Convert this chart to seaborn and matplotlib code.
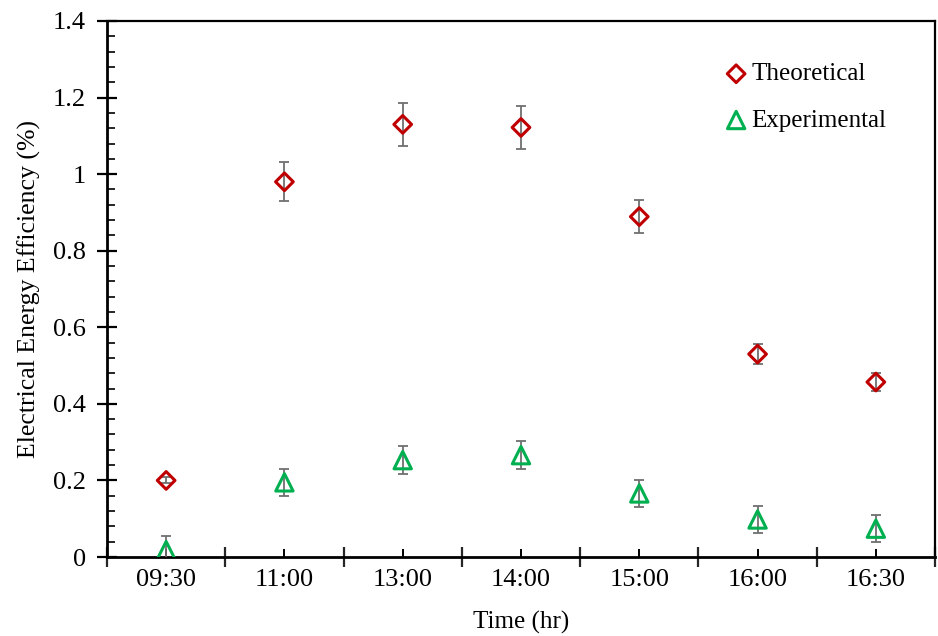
import numpy as np
import pandas as pd
import matplotlib
matplotlib.use("Agg")
import matplotlib.pyplot as plt
from matplotlib.ticker import FixedLocator, MultipleLocator, FuncFormatter
import seaborn as sns

times = ["09:30", "11:00", "13:00", "14:00", "15:00", "16:00", "16:30"]
theoretical = [0.200, 0.980, 1.130, 1.122, 0.889, 0.530, 0.457]
theoretical_err = [0.008, 0.051, 0.057, 0.057, 0.044, 0.026, 0.023]
experimental = [0.018, 0.195, 0.253, 0.266, 0.166, 0.098, 0.074]
experimental_err = [0.036, 0.036, 0.036, 0.036, 0.036, 0.036, 0.036]

sns.set_theme(style="white")
plt.rcParams["font.family"] = ["Liberation Serif", "DejaVu Serif"]

df = pd.DataFrame({
    "time": times,
    "theo": theoretical, "theo_err": theoretical_err,
    "exp": experimental, "exp_err": experimental_err,
})

fig = plt.figure(figsize=(9.38, 6.36), dpi=100)
ax = fig.add_axes([107/938, (636-557)/636, (935-107)/938, (557-21)/636])

red = "#C00000"
green = "#00B050"
errc = "#707070"

ax.errorbar(df["time"], df["theo"], yerr=df["theo_err"], fmt="none",
            ecolor=errc, elinewidth=1.3, capsize=3.8, capthick=1.3, zorder=3)
ax.errorbar(df["time"], df["exp"], yerr=df["exp_err"], fmt="none",
            ecolor=errc, elinewidth=1.3, capsize=3.8, capthick=1.3, zorder=3)

sns.scatterplot(data=df, x="time", y="theo", marker="D", s=9.0**2,
                facecolor="none", edgecolor=red, linewidth=2.2,
                label="Theoretical", ax=ax, zorder=4)
sns.scatterplot(data=df, x="time", y="exp", marker="^", s=12.5**2,
                facecolor="none", edgecolor=green, linewidth=2.2,
                label="Experimental", ax=ax, zorder=4)

ax.set_xlim(-0.5, len(times) - 0.5)
ax.set_ylim(0, 1.4)

for sp in ax.spines.values():
    sp.set_color("black")
    sp.set_linewidth(1.6)
    sp.set_visible(True)
ax.spines["left"].set_linewidth(2.0)
ax.spines["bottom"].set_linewidth(2.0)

ax.yaxis.set_major_locator(MultipleLocator(0.2))
ax.yaxis.set_minor_locator(MultipleLocator(0.04))
ax.yaxis.set_major_formatter(FuncFormatter(lambda v, p: f"{v:.1f}".rstrip("0").rstrip(".") if abs(v) > 1e-9 else "0"))
ax.tick_params(axis="y", which="major", direction="inout", length=14, width=1.6,
               left=True, right=False, labelsize=19, pad=8, colors="black")
ax.tick_params(axis="y", which="minor", direction="in", length=6, width=1.4,
               left=True, right=False)

ax.xaxis.set_minor_locator(FixedLocator(np.arange(-0.5, len(times), 1.0)))
ax.tick_params(axis="x", which="major", direction="in", length=6, width=1.4,
               bottom=True, top=False, labelsize=19, pad=9, colors="black")
ax.tick_params(axis="x", which="minor", direction="inout", length=14, width=1.6,
               bottom=True, top=False)

ax.set_xlabel("Time (hr)", fontsize=18, labelpad=14, color="black")
ax.set_ylabel("Electrical Energy Efficiency (%)", fontsize=18.5, labelpad=9, color="black")

ax.grid(False)
leg = ax.legend(loc="upper right", bbox_to_anchor=(0.941, 0.922), frameon=False,
                fontsize=18, handletextpad=0.2, handlelength=0.8,
                labelspacing=0.95, borderaxespad=0.0, borderpad=0.0)
for t in leg.get_texts():
    t.set_color("black")

fig.savefig("out.png", dpi=100)
